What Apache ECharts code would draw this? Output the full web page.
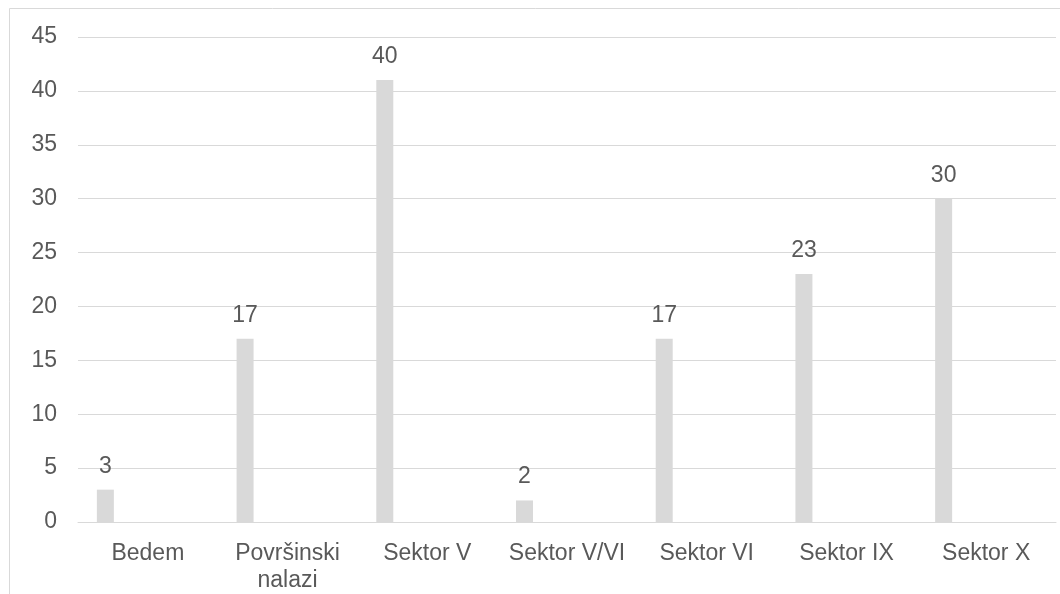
<!DOCTYPE html>
<html>
<head>
<meta charset="utf-8">
<script src="https://cdn.jsdelivr.net/npm/echarts@6/dist/echarts.min.js"></script>
<style>
  html, body { margin: 0; padding: 0; background: #fff; }
  #main { width: 1060px; height: 594px; }
</style>
</head>
<body>
<div id="main"></div>
<script>
// categories and values
var categories = ['Bedem', 'Površinski\nnalazi', 'Sektor V', 'Sektor V/VI', 'Sektor VI', 'Sektor IX', 'Sektor X'];
var values = [3, 17, 41, 2, 17, 23, 30];
// the labels as printed on the chart (Sektor V bar reaches 41 but reads 40)
var valueLabels = ['3', '17', '40', '2', '17', '23', '30'];
var yTicks = { min: 0, max: 45, interval: 5 };

var myChart = echarts.init(document.getElementById('main'));

var textColor = '#595959';
var lineColor = '#d9d9d9';
var font = 'Liberation Sans, Arial, sans-serif';

// empty series so the real bar sits at the left of its slot, like the original
var series = [{
  type: 'bar',
  data: values,
  barWidth: 17,
  barGap: '0%',
  itemStyle: { color: '#d9d9d9' },
  label: {
    show: true,
    position: 'top',
    distance: 12,
    color: textColor,
    fontFamily: font,
    fontSize: 23,
    formatter: function (p) { return valueLabels[p.dataIndex]; }
  }
}];
for (var i = 0; i < 5; i++) {
  series.push({
    type: 'bar',
    data: categories.map(function () { return '-'; }),
    barWidth: 17,
    barGap: '0%',
    silent: true
  });
}

var option = {
  animation: false,
  backgroundColor: '#fff',
  graphic: [{
    type: 'rect',
    shape: { x: 9.5, y: 8.5, width: 1200, height: 800 },
    style: { fill: 'none', stroke: lineColor, lineWidth: 1 },
    silent: true
  }],
  grid: { left: 78, right: 4, top: 37, bottom: 71, containLabel: false },
  xAxis: {
    type: 'category',
    data: categories,
    axisLine: { show: true, lineStyle: { color: lineColor, width: 1 } },
    axisTick: { show: false },
    axisLabel: {
      color: textColor,
      fontFamily: font,
      fontSize: 23,
      lineHeight: 27,
      margin: 18,
      interval: 0
    }
  },
  yAxis: {
    type: 'value',
    min: yTicks.min,
    max: yTicks.max,
    interval: yTicks.interval,
    axisLine: { show: false },
    axisTick: { show: false },
    splitLine: { lineStyle: { color: lineColor, width: 1 } },
    axisLabel: {
      color: textColor,
      fontFamily: font,
      fontSize: 23,
      margin: 21
    }
  },
  series: series
};

myChart.setOption(option);
</script>
</body>
</html>
